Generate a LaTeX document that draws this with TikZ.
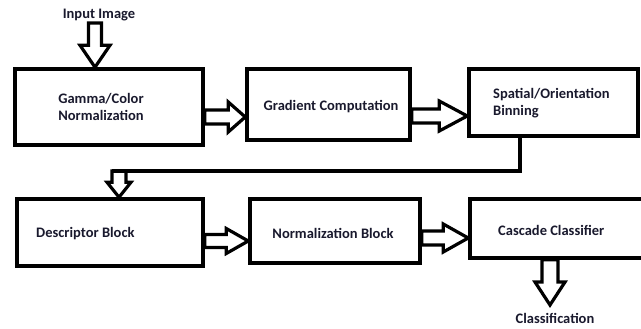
\documentclass[tikz,border=0pt]{standalone}
\usepackage{fontspec}
\setmainfont{Carlito}
\usetikzlibrary{calc}
\definecolor{txt}{RGB}{25,25,45}
\tikzset{
  box/.style={draw=black, line width=3.5pt, inner sep=0pt},
  lbl/.style={font=\bfseries\fontsize{14.5}{17}\selectfont, text=txt, inner sep=0pt},
  hollow/.style={draw=black, line width=3.2pt, line join=miter, miter limit=4},
  conn/.style={draw=black, line width=3.5pt}
}
% horizontal hollow arrow: from node, to node, y centre, shaft half, head half, head length
\newcommand\rarrowH[6]{\draw[hollow] let \p1=(#1.east), \p2=(#2.west) in
  (\x1,-#3pt+#4pt) -- (\x2-#6pt,-#3pt+#4pt) -- (\x2-#6pt,-#3pt+#5pt) -- (\x2,-#3pt)
  -- (\x2-#6pt,-#3pt-#5pt) -- (\x2-#6pt,-#3pt-#4pt) -- (\x1,-#3pt-#4pt) -- cycle;}
% vertical hollow arrow: from point, to point, x centre, shaft half, head half, head length
\newcommand\darrowV[6]{\draw[hollow] let \p1=(#1), \p2=(#2) in
  (#3pt-#4pt,\y1) -- (#3pt-#4pt,\y2+#6pt) -- (#3pt-#5pt,\y2+#6pt) -- (#3pt,\y2)
  -- (#3pt+#5pt,\y2+#6pt) -- (#3pt+#4pt,\y2+#6pt) -- (#3pt+#4pt,\y1) -- cycle;}
\begin{document}
\begin{tikzpicture}[x=1pt,y=-1pt]
\useasboundingbox (0,0) rectangle (641,329);
\clip (0,0) rectangle (641,329);
\fill[white] (0,0) rectangle (641,329);
% boxes
\node[box, minimum width=188pt, minimum height=76pt] (gamma) at (109,107) {};
\node[box, minimum width=163pt, minimum height=71pt] (grad) at (328.5,104.5) {};
\node[box, minimum width=169pt, minimum height=67pt] (spat) at (553.5,102.5) {};
\node[box, minimum width=186pt, minimum height=67pt] (desc) at (110,232.5) {};
\node[box, minimum width=170pt, minimum height=64pt] (norm) at (335,231) {};
\node[box, minimum width=190pt, minimum height=59pt] (casc) at (565,228.5) {};
% labels
\node[lbl, align=center] (gammaT) at (101,107) {Gamma/Color\\Normalization};
\node[lbl] (gradT) at (331,107) {Gradient Computation};
\node[lbl, align=left, anchor=west] (spatT) at (493,103.5) {Spatial/Orientation\\Binning};
\node[lbl, anchor=west] (descT) at (36,234) {Descriptor Block};
\node[lbl] (normT) at (333,233) {Normalization Block};
\node[lbl, anchor=west] (cascT) at (498,230) {Cascade Classifier};
\node[lbl] (clsT) at (555,318) {Classification};
\node[lbl] (inT) at (99,15) {Input Image};
% coordinates
\coordinate (inTop) at (95,23);
\coordinate (bend) at (112,171);
\coordinate (clsTip) at (550,305);
% connectors
\darrowV{inTop}{gamma.north}{95}{6.5}{15}{22}
\rarrowH{gamma}{grad}{117}{7}{15}{17}
\rarrowH{grad}{spat}{116}{7}{15}{28}
\draw[conn] ([xshift=-33.5pt]spat.south) |- (bend);
\darrowV{bend}{desc.north}{119}{7}{12}{15}
\rarrowH{desc}{norm}{241}{6.5}{12.5}{22}
\rarrowH{norm}{casc}{238}{7}{14}{25}
\darrowV{casc.south}{clsTip}{550}{8}{15}{23}
\end{tikzpicture}
\end{document}
